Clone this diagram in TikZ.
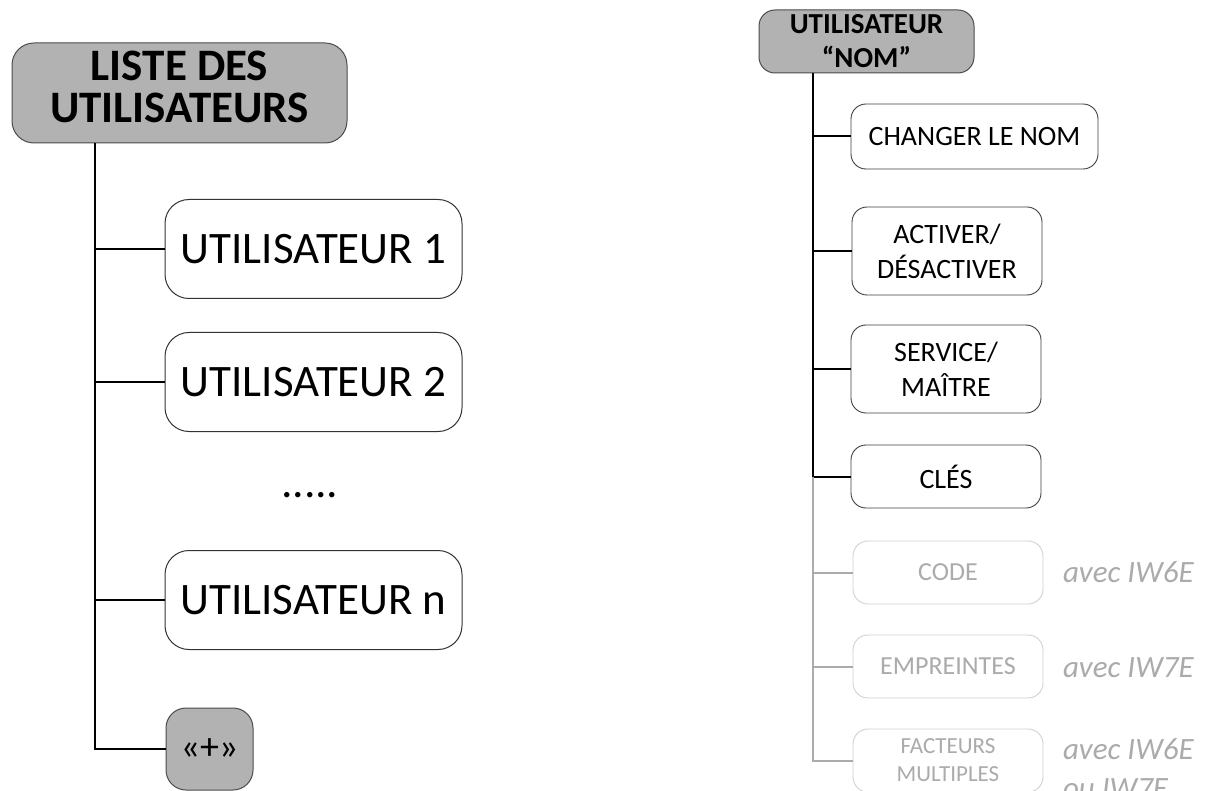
\documentclass[tikz,border=0pt]{standalone}
\usepackage{fontspec}
\setmainfont{Carlito}
\begin{document}
\begin{tikzpicture}[x=1pt,y=-1pt,
  every node/.style={inner sep=0pt, outer sep=0pt, align=center},
  hdr/.style={draw=black!70, line width=1pt, fill=black!30, rounded corners=22pt, font=\bfseries},
  bigbox/.style={draw=black!80, line width=1pt, rounded corners=24pt, minimum width=297pt, minimum height=99pt,
    font=\fontsize{45}{54}\selectfont},
  smallbox/.style={draw=black!75, line width=0.9pt, rounded corners=15pt, minimum width=190pt,
    font=\fontsize{28}{35}\selectfont},
  offbox/.style={draw=black!18, line width=0.9pt, rounded corners=15pt, minimum width=190pt, minimum height=63pt,
    text=black!33, font=\fontsize{26}{28}\selectfont},
  note/.style={anchor=base west, text=black!33, align=left, font=\fontsize{31}{39}\selectfont\itshape},
  trunkL/.style={line width=2.8pt, black},
  trunkR/.style={line width=2pt, black},
  trunkoff/.style={line width=2pt, black!33},
]
\clip (0,0) rectangle (1207,791);
\fill[white] (0,0) rectangle (1207,791);

% ---------- user list ----------
\coordinate (spL) at (95,0);
\node[hdr, minimum width=335pt, minimum height=100pt, font=\bfseries\fontsize{45}{42}\selectfont,
  text depth=12pt]
  (hdrL) at (179.5,93) {LISTE DES\\UTILISATEURS};
\node[bigbox] (u1) at (313.5,249) {UTILISATEUR 1};
\node[bigbox] (u2) at (313.5,382) {UTILISATEUR 2};
\node[font=\fontsize{45}{54}\selectfont\itshape] (dots) at (311,495) {.....};
\node[bigbox] (un) at (313.5,600) {UTILISATEUR n};
\node[hdr, font=\fontsize{38}{40}\selectfont, minimum width=87pt, minimum height=82pt, rounded corners=20pt]
  (plus) at (209.5,749) {«+»};

\draw[trunkL] (spL |- hdrL.south) |- (plus.west);
\foreach \n in {u1,u2,un}
  \draw[trunkL] (spL |- \n.west) -- (\n.west);

% ---------- single user menu ----------
\coordinate (spR) at (813,0);
\node[hdr, minimum width=215pt, minimum height=63pt, rounded corners=16pt, font=\bfseries\fontsize{29}{34}\selectfont]
  (hdrR) at (866.5,41.5) {UTILISATEUR\\“NOM”};
\node[smallbox, minimum width=247pt, minimum height=65pt] (chg) at (974.5,136.5) {CHANGER LE NOM};
\node[smallbox, minimum height=88pt] (act) at (947,251) {ACTIVER/\\DÉSACTIVER};
\node[smallbox, minimum height=88pt] (srv) at (946,369) {SERVICE/\\MAÎTRE};
\node[smallbox, minimum height=63pt] (cles) at (946,476.5) {CLÉS};
\node[offbox] (code) at (948,572.5) {CODE};
\node[offbox] (emp) at (948,666.5) {EMPREINTES};
\node[offbox, font=\fontsize{23}{28}\selectfont] (fac) at (948,760.5) {FACTEURS\\MULTIPLES};

\node[note] (n1) at (1063,582) {avec IW6E};
\node[note] (n2) at (1063,677) {avec IW7E};
\node[note] (n3) at (1063,798) {avec IW6E\\ou IW7E};

\draw[trunkR] (spR |- hdrR.south) |- (cles.west);
\foreach \n in {chg,act,srv}
  \draw[trunkR] (spR |- \n.west) -- (\n.west);
\draw[trunkoff] (spR |- cles.west) |- (fac.west);
\foreach \n in {code,emp}
  \draw[trunkoff] (spR |- \n.west) -- (\n.west);
\end{tikzpicture}
\end{document}
